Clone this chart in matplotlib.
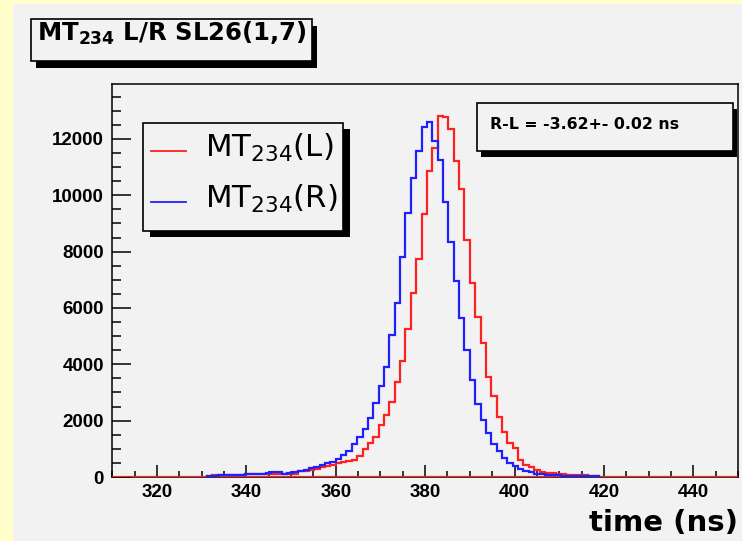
import matplotlib.pyplot as plt
import numpy as np
from matplotlib.lines import Line2D
from matplotlib.patches import Rectangle
from matplotlib.ticker import MultipleLocator

# histogram binning (ns)
bin_width = 1.2
first_edge = 331.2

# MT234 left side counts per bin
counts_left = [50, 60, 60, 70, 70, 80, 80, 90,
               95, 100, 100, 105, 105, 110,
               110, 115, 115, 200, 230,
               255, 280, 355, 400,
               430, 480, 520, 570, 620, 730, 990,
               1200, 1420, 1830, 2210, 2660, 3360,
               4100, 5250, 6530, 7730, 9340, 10870,
               11690, 12815, 12770, 12340, 11230, 10210,
               8410, 6900, 5670, 4770, 3560, 2875,
               2140, 1610, 1195, 1020, 600, 425,
               340, 250, 190, 130, 125, 120,
               95, 85, 80, 60, 55, 50, 45]

# MT234 right side counts per bin
counts_right = [40, 50, 60, 60, 70, 80, 80, 90,
                100, 110, 120, 130, 165, 170,
                120, 130, 160, 200, 260,
                320, 355, 420, 500,
                540, 635, 770, 940, 1170, 1410, 1690,
                2110, 2615, 3230, 3920, 5040, 6170,
                7820, 9360, 10600, 11580, 12440, 12610,
                11930, 11250, 9770, 8350, 6970, 5660,
                4510, 3460, 2590, 2025, 1550, 1180,
                935, 665, 510, 390, 285, 213,
                165, 110, 100, 75, 70, 60,
                45, 40, 35, 30, 30, 25, 20]

labels = [r'MT$_{\mathregular{234}}$(L)', r'MT$_{\mathregular{234}}$(R)']
title = r'MT$_{\mathbf{234}}$ L/R SL26(1,7)'
stat_text = 'R-L = -3.62+- 0.02 ns'

W, H = 742, 541
grey = '#f2f2f2'
red = '#ff2020'
blue = '#2020ff'


def fx(x):
    return x / W


def fy(y):
    return 1 - y / H


def box(x0, y0, x1, y1, dx, dy, z):
    # ROOT style box with black drop shadow, pixel coords from top-left
    sh = Rectangle((fx(x0 + dx), fy(y1 + dy)), (x1 - x0) / W, (y1 - y0) / H,
                   transform=fig.transFigure, fc='black', ec='none', zorder=z)
    fr = Rectangle((fx(x0), fy(y1)), (x1 - x0) / W, (y1 - y0) / H,
                   transform=fig.transFigure, fc=grey, ec='black', lw=1.2, zorder=z + 0.1)
    fig.add_artist(sh)
    fig.add_artist(fr)


fig = plt.figure(figsize=(W / 100, H / 100), dpi=100)
fig.patch.set_facecolor('#ffffcc')
fig.add_artist(Rectangle((fx(13), 0), 1 - fx(13), fy(4), transform=fig.transFigure,
                         fc=grey, ec='none', zorder=0))

ax = fig.add_axes([fx(112.3), fy(477), (738 - 112.3) / W, (477 - 84) / H])
ax.set_facecolor(grey)

edges_left = first_edge + bin_width * np.arange(len(counts_left) + 1)
edges_right = first_edge + bin_width * np.arange(len(counts_right) + 1)

ax.axhline(0, color=red, lw=1.6, zorder=3)
ax.stairs(counts_left, edges_left, color=red, lw=1.6, baseline=0, zorder=3)
ax.stairs(counts_right, edges_right, color=blue, lw=1.6, baseline=0, zorder=4)

ax.set_xlim(310, 450)
ax.set_ylim(0, 13950)
ax.xaxis.set_major_locator(MultipleLocator(20))
ax.xaxis.set_minor_locator(MultipleLocator(5))
ax.yaxis.set_major_locator(MultipleLocator(2000))
ax.yaxis.set_minor_locator(MultipleLocator(500))
ax.tick_params(axis='x', which='major', direction='in', length=8.5, width=1.1, pad=5)
ax.tick_params(axis='x', which='minor', direction='in', length=4.2, width=1.1)
ax.tick_params(axis='y', which='major', direction='in', length=13.5, width=1.1, pad=6)
ax.tick_params(axis='y', which='minor', direction='in', length=6.8, width=1.1)
for lab in ax.get_xticklabels() + ax.get_yticklabels():
    lab.set_family('Liberation Sans')
    lab.set_fontsize(13.5)
    lab.set_fontweight('bold')
for sp in ax.spines.values():
    sp.set_linewidth(1.1)

fig.text(fx(738), fy(531), 'time (ns)', ha='right', va='baseline',
         fontsize=21, fontweight='bold')

# title box
box(31, 19, 312, 61, 5, 7, 5)
fig.text(fx(37), fy(41), title, ha='left', va='baseline', fontsize=17.6,
         fontweight='bold', zorder=6)

# stat box
box(477, 103, 733, 151, 4, 6, 5)
fig.text(fx(490), fy(129), stat_text, ha='left', va='baseline', fontsize=11.3,
         fontweight='bold', zorder=6)

# legend
box(143, 123, 343, 231, 7, 6, 5)
for i, (lab, col) in enumerate(zip(labels, [red, blue])):
    ymid = 151 + 51 * i
    fig.add_artist(Line2D([fx(151), fx(186)], [fy(ymid), fy(ymid)],
                          color=col, lw=1.3, zorder=6))
    fig.text(fx(205), fy(157 + 51 * i), lab, ha='left', va='baseline',
             fontsize=22.2, zorder=6)

fig.savefig('out.png', dpi=100, facecolor=fig.get_facecolor())
